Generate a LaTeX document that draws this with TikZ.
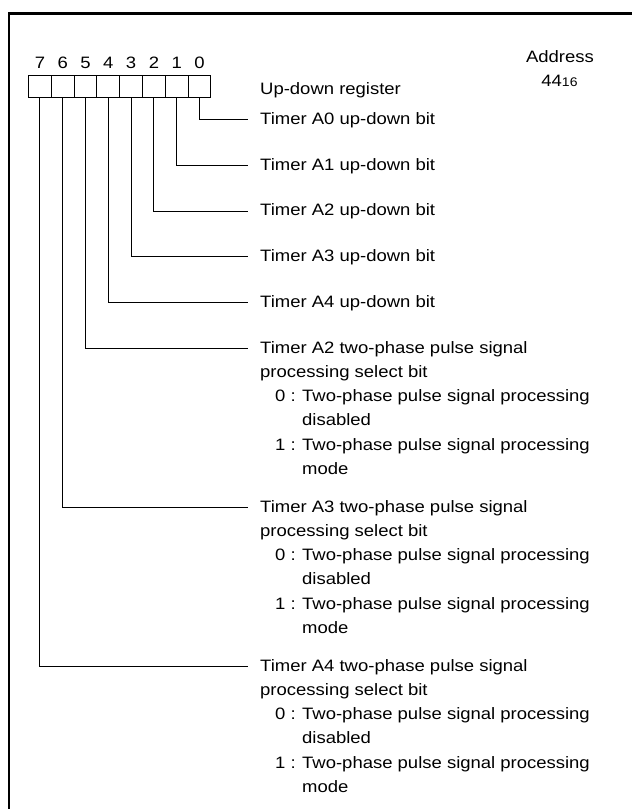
\documentclass[tikz,border=0pt]{standalone}
\usepackage{fontspec}
\setmainfont{Liberation Sans}[FakeStretch=1.12]
\begin{document}
\begin{tikzpicture}[x=1pt,y=-1pt,
  every node/.style={font=\fontsize{16.5}{24.2}\selectfont},
  cell/.style={draw,line width=1.1pt,minimum width=22.8pt,minimum height=22.3pt,inner sep=0pt},
  digit/.style={anchor=base,inner sep=0pt},
  desc/.style={anchor=base west,inner sep=0pt},
  lead/.style={line width=1.1pt},
  frame/.style={line width=2.6pt,line join=miter}]
\useasboundingbox (0,0) rectangle (632,809);
% frame
\draw[frame] (8.8,830) -- (8.8,13.3) -- (650,13.3);
% register cells and bit numbers
\foreach \i in {0,...,7}{
  \node[cell] (b\i) at ({39.9+22.8*(7-\i)},86.2) {};
  \node[digit] (n\i) at ({39.9+22.8*(7-\i)},68) {\i};
}
\node[desc] (reg) at (260,94) {Up-down register};
\node[anchor=base,inner sep=0pt] (addr) at (560,62.7) {Address};
\node[anchor=base,inner sep=0pt] (addrv) at (559.5,86.7) {44{\fontsize{12.5}{14}\selectfont 16}};
% up-down bits
\node[desc] (t0) at (260,124.2) {Timer A0 up-down bit};
\node[desc] (t1) at (260,170.0) {Timer A1 up-down bit};
\node[desc] (t2) at (260,215.8) {Timer A2 up-down bit};
\node[desc] (t3) at (260,261.6) {Timer A3 up-down bit};
\node[desc] (t4) at (260,307.4) {Timer A4 up-down bit};
% two-phase bits
\node[desc] (t5) at (260,353.2) {\begin{tabular}[t]{@{}l@{}}
Timer A2 two-phase pulse signal\\
processing select bit\\
\hspace*{15pt}\makebox[27pt][l]{0 :}Two-phase pulse signal processing\\
\hspace*{42pt}disabled\\
\hspace*{15pt}\makebox[27pt][l]{1 :}Two-phase pulse signal processing\\
\hspace*{42pt}mode
\end{tabular}};
\node[desc] (t6) at (260,512.2) {\begin{tabular}[t]{@{}l@{}}
Timer A3 two-phase pulse signal\\
processing select bit\\
\hspace*{15pt}\makebox[27pt][l]{0 :}Two-phase pulse signal processing\\
\hspace*{42pt}disabled\\
\hspace*{15pt}\makebox[27pt][l]{1 :}Two-phase pulse signal processing\\
\hspace*{42pt}mode
\end{tabular}};
\node[desc] (t7) at (260,671.2) {\begin{tabular}[t]{@{}l@{}}
Timer A4 two-phase pulse signal\\
processing select bit\\
\hspace*{15pt}\makebox[27pt][l]{0 :}Two-phase pulse signal processing\\
\hspace*{42pt}disabled\\
\hspace*{15pt}\makebox[27pt][l]{1 :}Two-phase pulse signal processing\\
\hspace*{42pt}mode
\end{tabular}};
% leaders
\foreach \i in {0,...,7}{
  \draw[lead] (b\i.south) |- ([xshift=-12pt,yshift=4.7pt]t\i.base west);
}
\end{tikzpicture}
\end{document}
